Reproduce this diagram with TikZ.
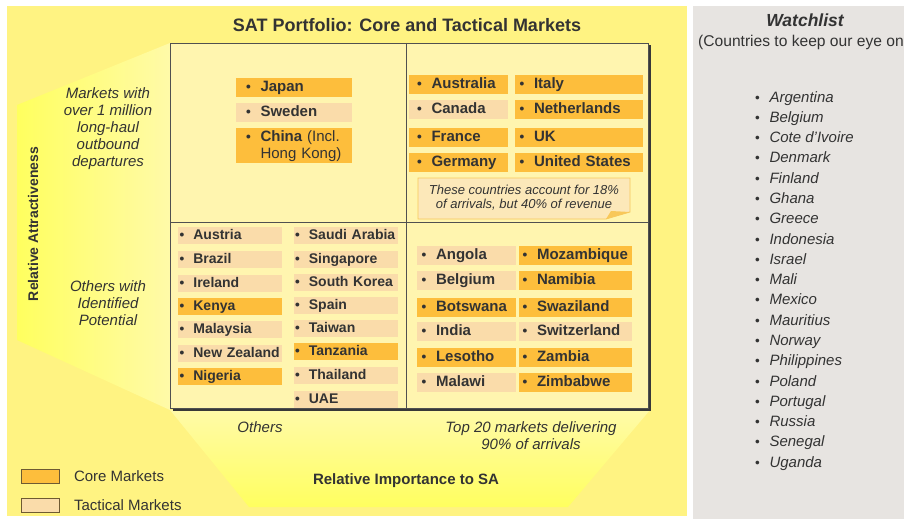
\documentclass[tikz,border=0pt]{standalone}
\usepackage{fontspec}
\setmainfont{Liberation Sans}
\usepackage{xcolor}
\definecolor{panelyellow}{RGB}{255,243,130}
\definecolor{funnelbright}{RGB}{255,255,95}
\definecolor{funnelpale}{RGB}{255,250,168}
\definecolor{gridfill}{RGB}{255,245,175}
\definecolor{coreorange}{RGB}{253,190,60}
\definecolor{tactbeige}{RGB}{250,220,170}
\definecolor{watchgray}{RGB}{231,228,225}
\definecolor{ink}{RGB}{51,51,51}
\definecolor{framegray}{RGB}{80,80,80}
\definecolor{notefill}{RGB}{252,232,185}
\definecolor{noteedge}{RGB}{248,200,90}
\definecolor{legendedge}{RGB}{110,90,50}
\usetikzlibrary{positioning}
\hyphenpenalty=10000
\exhyphenpenalty=10000
\newcommand{\bul}{{\fontsize{13.5}{13.5}\selectfont\textbullet}\hspace{0.64em}}

\tikzset{
  mkt/.style={anchor=north west, inner ysep=0pt, align=left, text=ink,
    font=\bfseries\fontsize{15}{17}\selectfont, text height=11pt, text depth=3pt},
  core/.style={mkt, fill=coreorange},
  tact/.style={mkt, fill=tactbeige},
  smallmkt/.style={font=\bfseries\fontsize{14}{16}\selectfont, text height=10pt, text depth=3pt, minimum height=17pt},
  colTL/.style={text width=96pt, inner xsep=10pt, minimum height=19pt},
  colTRa/.style={text width=83pt, inner xsep=8pt, minimum height=19pt},
  colTRb/.style={text width=119pt, inner xsep=4.5pt, minimum height=19pt},
  colBLa/.style={smallmkt, text width=101pt, inner xsep=1.5pt},
  colBLb/.style={smallmkt, text width=102pt, inner xsep=1pt},
  colBRa/.style={text width=90pt, inner xsep=4.5pt, minimum height=19pt},
  colBRb/.style={text width=106pt, inner xsep=3.5pt, minimum height=19pt},
  axislbl/.style={font=\itshape\fontsize{15}{17}\selectfont, text=ink, align=center, inner sep=0pt},
  keybox/.style={draw=legendedge, line width=0.8pt, minimum width=38pt, minimum height=14pt, anchor=north west, inner sep=0pt},
  keytext/.style={font=\fontsize{15}{17}\selectfont, text=ink, inner sep=0pt},
  watchitem/.style={anchor=base west, inner sep=0pt, text=ink, font=\itshape\fontsize{15}{17}\selectfont},
}

\begin{document}
\begin{tikzpicture}[x=1pt, y=-1pt]
\useasboundingbox (0,0) rectangle (904,519);
\fill[white] (0,0) rectangle (904,519);

% === Panels ===
\fill[panelyellow] (7,6) rectangle (687,516);
\fill[watchgray] (693,6) rectangle (904,519);

% funnels towards the axis titles
\shade[left color=funnelbright, right color=funnelpale] (170,43) -- (17,105) -- (17,340) -- (170,410) -- cycle;
\shade[top color=funnelpale, bottom color=funnelbright] (170,410) -- (650,410) -- (568,507) -- (249,507) -- cycle;

\node[font=\bfseries\fontsize{18}{20}\selectfont, text=ink, anchor=base] (title) at (407,31.5) {SAT Portfolio: Core and Tactical Markets};

% === Matrix ===
\fill[framegray!70!black] (172.5,45.5) rectangle (651,411);
\draw[framegray, line width=0.8pt, fill=gridfill] (170,43) rectangle (648,408);
\draw[framegray, line width=0.8pt] (406,43) -- (406,408);
\draw[framegray, line width=0.8pt] (170,222) -- (648,222);

% === Top left ===
\node[core, colTL] (jp) at (236,78) {\bul Japan};
\node[tact, colTL] (se) at (236,103) {\bul Sweden};
\node[core, colTL, minimum height=35pt, text height={}, text depth={}] (cn) at (236,128)
     {\bul China \mdseries(Incl.\\\phantom{\bul}\mdseries Hong Kong)};

% === Top right ===
\node[core, colTRa] (au) at (409,75) {\bul Australia};
\node[tact, colTRa] (ca) at (409,100) {\bul Canada};
\node[core, colTRa] (fr) at (409,128) {\bul France};
\node[core, colTRa] (de) at (409,153) {\bul Germany};

\node[core, colTRb] (it) at (515,75) {\bul Italy};
\node[core, colTRb] (nl) at (515,100) {\bul Netherlands};
\node[core, colTRb] (uk) at (515,128) {\bul UK};
\node[core, colTRb] (us) at (515,153) {\bul United States};

\draw[noteedge, line width=0.8pt, fill=notefill] (418,178) -- (630,178) -- (630,212) -- (606,219) -- (418,219) -- cycle;
\fill[noteedge] (606,219) -- (630,212) -- (611,211) -- cycle;
\node[font=\itshape\fontsize{13}{13.5}\selectfont, text=ink, align=center, inner sep=0pt] (note) at (524,197.5)
     {These countries account for 18\%\\of arrivals, but 40\% of revenue};

% === Bottom left ===
\node[tact, colBLa] (at) at (178,227) {\bul Austria};
\node[tact, colBLa] (br) at (178,251) {\bul Brazil};
\node[tact, colBLa] (ie) at (178,275) {\bul Ireland};
\node[core, colBLa] (ke) at (178,298) {\bul Kenya};
\node[tact, colBLa] (my) at (178,321) {\bul Malaysia};
\node[tact, colBLa] (nz) at (178,345) {\bul New Zealand};
\node[core, colBLa] (ng) at (178,368) {\bul Nigeria};

\node[tact, colBLb] (sa) at (294,227) {\bul Saudi Arabia};
\node[tact, colBLb] (sg) at (294,251) {\bul Singapore};
\node[tact, colBLb] (kr) at (294,274) {\bul South Korea};
\node[tact, colBLb] (es) at (294,297) {\bul Spain};
\node[tact, colBLb] (tw) at (294,320) {\bul Taiwan};
\node[core, colBLb] (tz) at (294,343) {\bul Tanzania};
\node[tact, colBLb] (th) at (294,367) {\bul Thailand};
\node[tact, colBLb] (ae) at (294,391) {\bul UAE};

% === Bottom right ===
\node[tact, colBRa] (ao) at (417,245.5) {\bul Angola};
\node[tact, colBRa] (be) at (417,270.5) {\bul Belgium};
\node[core, colBRa] (bw) at (417,297.5) {\bul Botswana};
\node[tact, colBRa] (india) at (417,322) {\bul India};
\node[core, colBRa] (ls) at (417,347.5) {\bul Lesotho};
\node[tact, colBRa] (mw) at (417,372.5) {\bul Malawi};

\node[core, colBRb] (mz) at (519,245.5) {\bul Mozambique};
\node[core, colBRb] (na) at (519,270.5) {\bul Namibia};
\node[core, colBRb] (sz) at (519,297.5) {\bul Swaziland};
\node[tact, colBRb] (ch) at (519,322) {\bul Switzerland};
\node[core, colBRb] (zm) at (519,347.5) {\bul Zambia};
\node[core, colBRb] (zw) at (519,372.5) {\bul Zimbabwe};

% === Axis labels ===
\node[font=\bfseries\fontsize{14}{16}\selectfont, text=ink, rotate=90] (yaxis) at (33,224) {Relative Attractiveness};
\node[axislbl] (upper) at (108,129) {Markets with\\over 1 million\\long-haul\\outbound\\departures};
\node[axislbl] (lower) at (108,303) {Others with\\Identified\\Potential};
\node[axislbl] (others) at (260,427) {Others};
\node[axislbl] (top20) at (531,435.5) {Top 20 markets delivering\\90\% of arrivals};
\node[font=\bfseries\fontsize{15}{17}\selectfont, text=ink] (xaxis) at (406,481) {Relative Importance to SA};

% === Legend ===
\node[keybox, fill=coreorange] (corekey) at (21,469) {};
\node[keytext, right=14pt of corekey] (coretxt) {Core Markets};
\node[keybox, fill=tactbeige] (tactkey) at (21,498) {};
\node[keytext, right=14pt of tactkey] (tacttxt) {Tactical Markets};

% === Watchlist ===
\node[font=\bfseries\itshape\fontsize{17.5}{19}\selectfont, text=ink, anchor=base] (wtitle) at (805,27) {Watchlist};
\node[font=\fontsize{15.6}{17}\selectfont, text=ink, anchor=base west, inner sep=0pt] (wsub) at (698,47) {(Countries to keep our eye on};

\node[watchitem] (w1) at (755,102) {\upshape\bul\itshape Argentina};
\node[watchitem] (w2) at (755,122.3) {\upshape\bul\itshape Belgium};
\node[watchitem] (w3) at (755,142.6) {\upshape\bul\itshape Cote d'Ivoire};
\node[watchitem] (w4) at (755,162.9) {\upshape\bul\itshape Denmark};
\node[watchitem] (w5) at (755,183.1) {\upshape\bul\itshape Finland};
\node[watchitem] (w6) at (755,203.4) {\upshape\bul\itshape Ghana};
\node[watchitem] (w7) at (755,223.7) {\upshape\bul\itshape Greece};
\node[watchitem] (w8) at (755,244) {\upshape\bul\itshape Indonesia};
\node[watchitem] (w9) at (755,264.3) {\upshape\bul\itshape Israel};
\node[watchitem] (w10) at (755,284.6) {\upshape\bul\itshape Mali};
\node[watchitem] (w11) at (755,304.9) {\upshape\bul\itshape Mexico};
\node[watchitem] (w12) at (755,325.2) {\upshape\bul\itshape Mauritius};
\node[watchitem] (w13) at (755,345.4) {\upshape\bul\itshape Norway};
\node[watchitem] (w14) at (755,365.7) {\upshape\bul\itshape Philippines};
\node[watchitem] (w15) at (755,386) {\upshape\bul\itshape Poland};
\node[watchitem] (w16) at (755,406.3) {\upshape\bul\itshape Portugal};
\node[watchitem] (w17) at (755,426.6) {\upshape\bul\itshape Russia};
\node[watchitem] (w18) at (755,446.9) {\upshape\bul\itshape Senegal};
\node[watchitem] (w19) at (755,467.2) {\upshape\bul\itshape Uganda};

\end{tikzpicture}
\end{document}
